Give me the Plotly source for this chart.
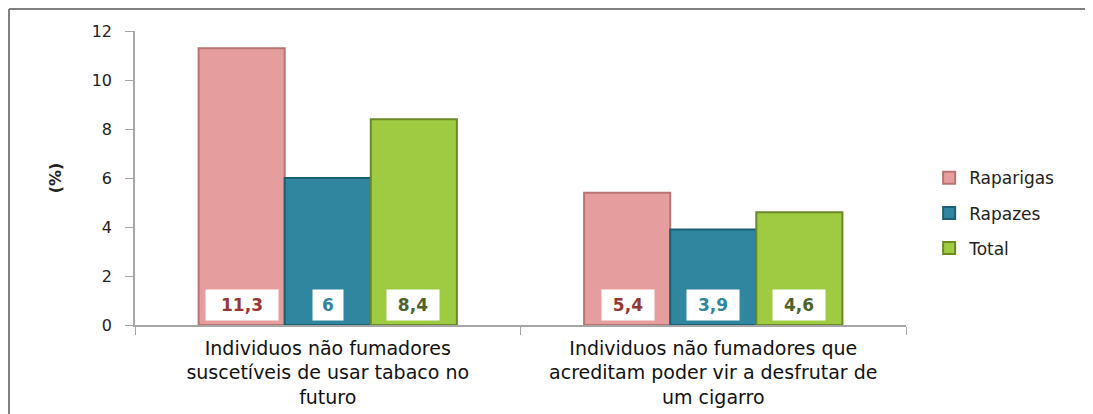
import plotly.graph_objects as go

categories = ["Individuos não fumadores<br>suscetíveis de usar tabaco no<br>futuro",
              "Individuos não fumadores que<br>acreditam poder vir a desfrutar de<br>um cigarro"]
raparigas = [11.3, 5.4]
rapazes = [6.0, 3.9]
total = [8.4, 4.6]
series_names = ["Raparigas", "Rapazes", "Total"]
y_ticks = [0, 2, 4, 6, 8, 10, 12]

fill_colors = ["#E59E9D", "#31869F", "#9FCB42"]
line_colors = ["#B87473", "#1D5F72", "#6A8A28"]
text_colors = ["#953735", "#31859C", "#4F6228"]

fig = go.Figure()
series = [raparigas, rapazes, total]
for name, vals, fc, lc in zip(series_names, series, fill_colors, line_colors):
    fig.add_trace(go.Bar(x=categories, y=vals, name=name, legendgroup=name,
                         marker=dict(color=fc, line=dict(color=lc, width=2))))

def fmt(v):
    return ("%g" % v).replace(".", ",")

def box_width(s):
    digits = sum(ch.isdigit() for ch in s)
    commas = s.count(",")
    return 20 * digits + 2 * commas + 8

offsets = [-1, 0, 1]
for i, cat in enumerate(categories):
    for j, vals in enumerate(series):
        s = fmt(vals[i])
        fig.add_annotation(x=cat, y=0.8, xref="x", yref="y", text="<b>%s</b>" % s,
                           showarrow=False, xshift=offsets[j] * 85.5,
                           font=dict(family="DejaVu Sans", size=17, color=text_colors[j]),
                           bgcolor="white", width=box_width(s), height=28)

# page has an 8px body margin; figure sized so plot area lands where it does in the reference
fig.update_layout(
    width=1085, height=406,
    margin=dict(l=127, r=187, t=23, b=89, autoexpand=False),
    paper_bgcolor="white", plot_bgcolor="white",
    barmode="group", bargap=0.33, bargroupgap=0,
    showlegend=True,
    legend=dict(x=1.03, y=0.38, xanchor="left", yanchor="middle",
                font=dict(family="DejaVu Sans", size=17, color="#222"),
                tracegroupgap=10, itemsizing="constant"),
    font=dict(family="DejaVu Sans", color="#222"),
)
fig.update_yaxes(range=[0, 12], tickvals=y_ticks, showgrid=False, zeroline=False,
                 showline=True, linecolor="#A6A6A6", linewidth=1.5, automargin=False,
                 ticks="outside", ticklen=8, tickcolor="#A6A6A6", ticklabelstandoff=10,
                 tickfont=dict(family="DejaVu Sans", size=16, color="#222"),
                 title=dict(text="<b>(%)</b>", font=dict(family="DejaVu Sans", size=16), standoff=26))
fig.update_xaxes(showgrid=False, showline=True, linecolor="#A6A6A6", linewidth=1.5, automargin=False,
                 ticks="outside", tickson="boundaries", ticklen=8, tickcolor="#A6A6A6",
                 ticklabelstandoff=5,
                 tickfont=dict(family="DejaVu Sans", size=19, color="#111"))

# outer frame (top and left)
fig.add_shape(type="line", xref="paper", yref="paper", x0=-0.1634, x1=1.3, y0=1.0748, y1=1.0748,
              line=dict(color="#808080", width=2))
fig.add_shape(type="line", xref="paper", yref="paper", x0=-0.1634, x1=-0.1634, y0=-0.31, y1=1.0748,
              line=dict(color="#808080", width=2))

fig.write_html("out.html")
